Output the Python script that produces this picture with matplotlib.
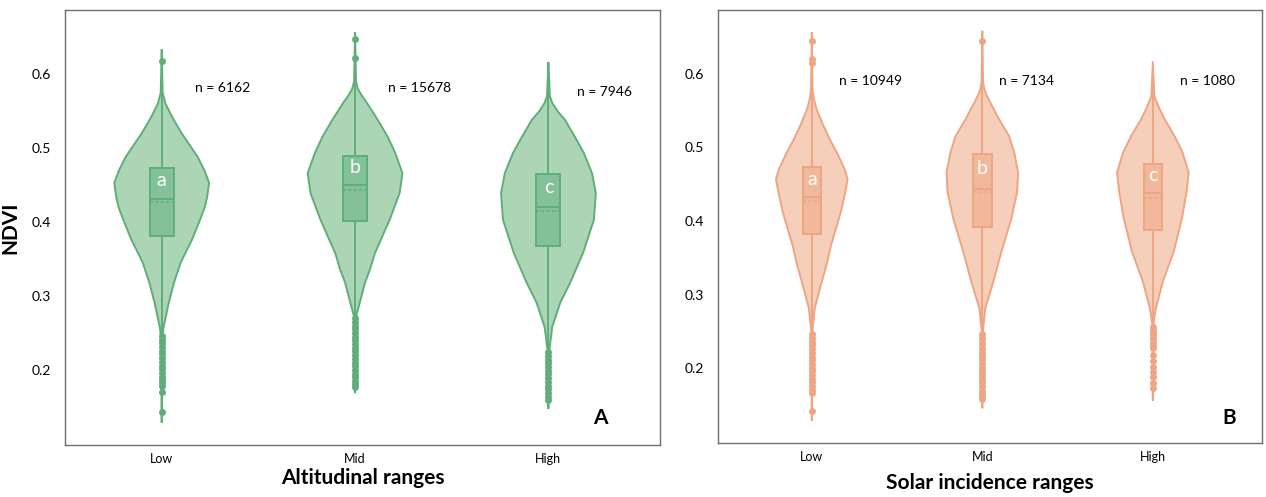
import numpy as np
import matplotlib
matplotlib.use("Agg")
import matplotlib.pyplot as plt
from matplotlib.patches import Rectangle

plt.rcParams["font.family"] = ["Lato", "DejaVu Sans"]

categories = ["Low", "Mid", "High"]
yticks = [0.2, 0.3, 0.4, 0.5, 0.6]

# --- panel A: altitudinal ranges ---
alt_n = [6162, 15678, 7946]
alt_letters = ["a", "b", "c"]
alt_q1 = [0.381, 0.401, 0.368]
alt_median = [0.431, 0.450, 0.420]
alt_mean = [0.427, 0.443, 0.415]
alt_q3 = [0.473, 0.489, 0.465]
# violin outlines: NDVI levels and relative density
alt_violin_y = [
    [0.632, 0.575, 0.560, 0.542, 0.520, 0.488, 0.470, 0.453, 0.434, 0.420, 0.403, 0.376, 0.362, 0.345,
     0.318, 0.291, 0.258, 0.241, 0.130],
    [0.655, 0.590, 0.580, 0.572, 0.561, 0.538, 0.515, 0.493, 0.466, 0.439, 0.403, 0.358, 0.335, 0.318,
     0.291, 0.272, 0.170],
    [0.615, 0.570, 0.561, 0.550, 0.538, 0.515, 0.493, 0.466, 0.439, 0.403, 0.358, 0.318, 0.291, 0.258,
     0.227, 0.149],
]
alt_violin_d = [
    [0.0, 0.02, 0.08, 0.22, 0.42, 0.76, 0.90, 1.0, 0.96, 0.91, 0.81, 0.64, 0.53, 0.40, 0.26, 0.15, 0.04,
     0.01, 0.0],
    [0.0, 0.02, 0.06, 0.13, 0.25, 0.48, 0.69, 0.85, 1.0, 0.94, 0.73, 0.42, 0.31, 0.21, 0.10, 0.02, 0.0],
    [0.0, 0.03, 0.08, 0.19, 0.35, 0.56, 0.75, 0.92, 1.0, 0.96, 0.73, 0.46, 0.25, 0.08, 0.02, 0.0],
]
alt_outliers = [
    [0.618, 0.246, 0.241, 0.236, 0.231, 0.226, 0.221, 0.216, 0.211, 0.206, 0.201, 0.196, 0.191, 0.186,
     0.182, 0.178, 0.170, 0.143],
    [0.647, 0.622, 0.270, 0.265, 0.260, 0.255, 0.250, 0.245, 0.240, 0.235, 0.230, 0.225, 0.220, 0.215,
     0.210, 0.205, 0.200, 0.195, 0.190, 0.185, 0.181, 0.177],
    [0.224, 0.219, 0.214, 0.209, 0.204, 0.199, 0.194, 0.189, 0.184, 0.179, 0.174, 0.169, 0.164, 0.159],
]

# --- panel B: solar incidence ranges ---
sol_n = [10949, 7134, 1080]
sol_letters = ["a", "b", "c"]
sol_q1 = [0.382, 0.392, 0.388]
sol_median = [0.432, 0.443, 0.438]
sol_mean = [0.427, 0.439, 0.431]
sol_q3 = [0.473, 0.491, 0.477]
sol_violin_y = [
    [0.655, 0.580, 0.565, 0.551, 0.531, 0.511, 0.491, 0.470, 0.457, 0.436, 0.412, 0.389, 0.366, 0.342,
     0.318, 0.281, 0.247, 0.130],
    [0.657, 0.590, 0.580, 0.572, 0.561, 0.538, 0.515, 0.493, 0.466, 0.439, 0.403, 0.358, 0.318, 0.281,
     0.247, 0.147],
    [0.615, 0.570, 0.561, 0.550, 0.538, 0.515, 0.493, 0.466, 0.439, 0.403, 0.358, 0.318, 0.281, 0.257,
     0.157],
]
sol_violin_d = [
    [0.0, 0.02, 0.06, 0.14, 0.31, 0.50, 0.72, 0.92, 1.0, 0.92, 0.81, 0.67, 0.53, 0.42, 0.28, 0.08, 0.01,
     0.0],
    [0.0, 0.02, 0.05, 0.11, 0.22, 0.47, 0.75, 0.89, 1.0, 0.97, 0.81, 0.53, 0.31, 0.08, 0.01, 0.0],
    [0.0, 0.04, 0.11, 0.21, 0.33, 0.61, 0.83, 1.0, 0.94, 0.81, 0.58, 0.28, 0.08, 0.01, 0.0],
]
sol_outliers = [
    [0.645, 0.620, 0.615, 0.246, 0.241, 0.236, 0.231, 0.226, 0.221, 0.216, 0.211, 0.206, 0.201, 0.196,
     0.191, 0.186, 0.181, 0.176, 0.171, 0.166, 0.142],
    [0.645, 0.246, 0.241, 0.236, 0.231, 0.226, 0.221, 0.216, 0.211, 0.206, 0.201, 0.196, 0.191, 0.186,
     0.181, 0.176, 0.171, 0.166, 0.162, 0.158],
    [0.256, 0.251, 0.246, 0.241, 0.236, 0.231, 0.227, 0.218, 0.210, 0.202, 0.195, 0.188, 0.180, 0.173],
]

GREEN = dict(fill="#acd5b6", box="#84c199", edge="#5fae79")
ORANGE = dict(fill="#f6cfbb", box="#f2b89b", edge="#eea583")


def draw_panel(ax, vy, vd, q1, med, mean, q3, outl, letters, n, colors, vwidth, bwidth, n_pos):
    for i in range(len(categories)):
        y = np.array(vy[i])
        d = np.array(vd[i]) * vwidth
        ax.fill_betweenx(y, i - d, i + d, facecolor=colors["fill"], edgecolor="none", zorder=1)
        ax.plot(i - d, y, color=colors["edge"], lw=1.4, zorder=2)
        ax.plot(i + d, y, color=colors["edge"], lw=1.4, zorder=2)
        ax.plot([i, i], [y.min(), y.max()], color=colors["edge"], lw=1.4, zorder=2)
        ax.add_patch(Rectangle((i - bwidth, q1[i]), 2 * bwidth, q3[i] - q1[i],
                               facecolor=colors["box"], edgecolor=colors["edge"], lw=1.4, zorder=3))
        ax.plot([i - bwidth, i + bwidth], [med[i], med[i]], color=colors["edge"], lw=1.4, zorder=4)
        ax.plot([i - bwidth, i + bwidth], [mean[i], mean[i]], color=colors["edge"], lw=1.1,
                ls=(0, (2, 1.5)), zorder=4)
        ax.plot([i] * len(outl[i]), outl[i], "o", color=colors["edge"], ms=5, mec="none", zorder=2)
        ax.text(i, (med[i] + q3[i]) / 2 + 0.004, letters[i], color="white", fontsize=14,
                ha="center", va="center", zorder=5)
        ax.text(i + n_pos[i][0], n_pos[i][1], f"n = {n[i]}", fontsize=10, ha="left", va="center")

    ax.set_xticks(range(len(categories)))
    ax.set_xticklabels(categories, fontsize=9)
    ax.set_yticks(yticks)
    ax.set_yticklabels([f"{t:.1f}" for t in yticks], fontsize=10)
    ax.tick_params(length=0)
    ax.tick_params(axis="x", pad=6)
    ax.tick_params(axis="y", pad=10)
    for s in ax.spines.values():
        s.set_color("#6e6e6e")
        s.set_linewidth(1.0)
    ax.set_ylim(0.0986, 0.6865)


fig = plt.figure(figsize=(12.66, 4.97), dpi=100)
ax1 = fig.add_axes([65 / 1266, 52 / 497, 595 / 1266, 435 / 497])
ax2 = fig.add_axes([718 / 1266, 54 / 497, 544 / 1266, 433 / 497])

draw_panel(ax1, alt_violin_y, alt_violin_d, alt_q1, alt_median, alt_mean, alt_q3, alt_outliers,
           alt_letters, alt_n, GREEN, 0.245, 0.062,
           [(0.17, 0.581), (0.17, 0.581), (0.15, 0.576)])
ax1.set_xlim(-0.5, 2.577)
ax1.set_ylabel("NDVI", fontsize=15, fontweight="bold", labelpad=8)
ax1.set_xlabel("Altitudinal ranges", fontsize=15, fontweight="bold", labelpad=2)
ax1.text(0.9, 0.062, "A", transform=ax1.transAxes, fontsize=15, fontweight="bold",
         ha="center", va="center")

draw_panel(ax2, sol_violin_y, sol_violin_d, sol_q1, sol_median, sol_mean, sol_q3, sol_outliers,
           sol_letters, sol_n, ORANGE, 0.21, 0.054,
           [(0.16, 0.590), (0.1, 0.590), (0.16, 0.590)])
ax2.set_xlim(-0.55, 2.64)
ax2.set_xlabel("Solar incidence ranges", fontsize=15, fontweight="bold", labelpad=7)
ax2.text(0.94, 0.058, "B", transform=ax2.transAxes, fontsize=15, fontweight="bold",
         ha="center", va="center")

fig.savefig("out.png", dpi=100)
